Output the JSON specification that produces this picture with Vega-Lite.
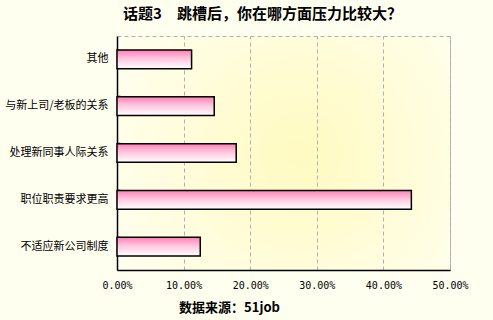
{
  "$schema": "https://vega.github.io/schema/vega-lite/v6.json",
  "width": 333,
  "height": 234,
  "autosize": "none",
  "padding": {"left": 117, "top": 36, "right": 43, "bottom": 50},
  "background": "#fffff0",
  "title": {
    "text": "话题3　跳槽后，你在哪方面压力比较大？",
    "font": "Noto Sans CJK SC",
    "fontSize": 15,
    "fontWeight": "bold",
    "color": "#000000",
    "anchor": "middle",
    "dx": -21,
    "offset": 14
  },
  "config": {
    "view": {
      "stroke": "#b0b0b0",
      "strokeDash": [4, 3],
      "fill": {
        "gradient": "radial",
        "x1": 0.55, "y1": 0.5, "r1": 0,
        "x2": 0.55, "y2": 0.5, "r2": 0.65,
        "stops": [
          {"offset": 0, "color": "#fffac0"},
          {"offset": 1, "color": "#fffff0"}
        ]
      }
    }
  },
  "data": {
    "values": [
      {"item": "其他", "pct": 0.112},
      {"item": "与新上司/老板的关系", "pct": 0.146},
      {"item": "处理新同事人际关系", "pct": 0.179},
      {"item": "职位职责要求更高", "pct": 0.442},
      {"item": "不适应新公司制度", "pct": 0.125}
    ]
  },
  "mark": {
    "type": "bar",
    "stroke": "#000000",
    "strokeWidth": 1.5,
    "color": {
      "gradient": "linear",
      "x1": 0, "y1": 0, "x2": 0, "y2": 1,
      "stops": [
        {"offset": 0, "color": "#ff7fb6"},
        {"offset": 0.45, "color": "#ffc6df"},
        {"offset": 1, "color": "#ffffff"}
      ]
    }
  },
  "encoding": {
    "y": {
      "field": "item",
      "type": "nominal",
      "sort": null,
      "scale": {"paddingInner": 0.6, "paddingOuter": 0.3},
      "axis": {
        "title": null,
        "domainColor": "#000000",
        "domainWidth": 1.5,
        "tickColor": "#000000",
        "tickSize": -3,
        "tickWidth": 1.5,
        "bandPosition": 0,
        "labelFont": "Noto Sans CJK SC",
        "labelFontSize": 11,
        "labelColor": "#000000",
        "labelPadding": 12,
        "grid": false
      }
    },
    "x": {
      "field": "pct",
      "type": "quantitative",
      "scale": {"domain": [0, 0.5]},
      "axis": {
        "title": "数据来源：51job",
        "titleFont": "Noto Sans CJK SC",
        "titleFontSize": 13,
        "titleFontWeight": "bold",
        "titleColor": "#000000",
        "titleX": 112,
        "titleY": 37,
        "titleAlign": "center",
        "titleBaseline": "middle",
        "format": ".2%",
        "values": [0, 0.1, 0.2, 0.3, 0.4, 0.5],
        "labelFont": "DejaVu Sans Mono",
        "labelFontSize": 10,
        "labelColor": "#000000",
        "labelPadding": 10,
        "labelFlush": false,
        "ticks": false,
        "domainColor": "#000000",
        "domainWidth": 1.5,
        "grid": true,
        "gridColor": "#b0b0b0",
        "gridDash": [4, 3]
      }
    }
  }
}
